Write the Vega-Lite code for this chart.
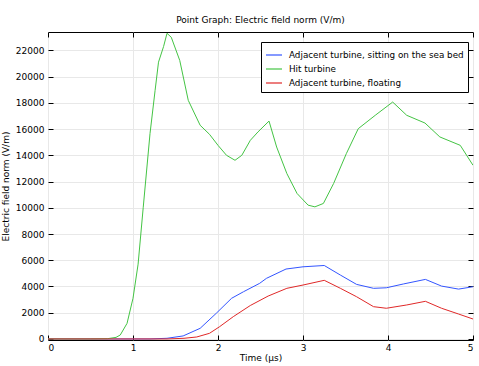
{
  "$schema": "https://vega.github.io/schema/vega-lite/v6.json",
  "autosize": "none",
  "width": 425,
  "height": 308,
  "padding": {"left": 48, "top": 32, "right": 6, "bottom": 26},
  "title": {"text": "Point Graph: Electric field norm (V/m)", "fontSize": 9, "fontWeight": "normal", "font": "DejaVu Sans", "color": "#000", "offset": 7},
  "config": {
    "font": "DejaVu Sans",
    "view": {"stroke": "#000", "strokeWidth": 1},
    "axis": {"labelFontSize": 9, "titleFontSize": 9, "titleFontWeight": "normal", "labelColor": "#000", "titleColor": "#000", "domainColor": "#000", "tickColor": "#000", "gridColor": "#e8e8e8"}
  },
  "data": {"values": [
    {"t":0,"v":0,"s":"Adjacent turbine, sitting on the sea bed"},
    {"t":1.2,"v":0,"s":"Adjacent turbine, sitting on the sea bed"},
    {"t":1.4,"v":50,"s":"Adjacent turbine, sitting on the sea bed"},
    {"t":1.59,"v":230,"s":"Adjacent turbine, sitting on the sea bed"},
    {"t":1.79,"v":810,"s":"Adjacent turbine, sitting on the sea bed"},
    {"t":1.98,"v":1960,"s":"Adjacent turbine, sitting on the sea bed"},
    {"t":2.16,"v":3100,"s":"Adjacent turbine, sitting on the sea bed"},
    {"t":2.3,"v":3600,"s":"Adjacent turbine, sitting on the sea bed"},
    {"t":2.49,"v":4240,"s":"Adjacent turbine, sitting on the sea bed"},
    {"t":2.57,"v":4620,"s":"Adjacent turbine, sitting on the sea bed"},
    {"t":2.8,"v":5330,"s":"Adjacent turbine, sitting on the sea bed"},
    {"t":3.0,"v":5500,"s":"Adjacent turbine, sitting on the sea bed"},
    {"t":3.25,"v":5600,"s":"Adjacent turbine, sitting on the sea bed"},
    {"t":3.44,"v":4870,"s":"Adjacent turbine, sitting on the sea bed"},
    {"t":3.63,"v":4160,"s":"Adjacent turbine, sitting on the sea bed"},
    {"t":3.83,"v":3860,"s":"Adjacent turbine, sitting on the sea bed"},
    {"t":3.98,"v":3900,"s":"Adjacent turbine, sitting on the sea bed"},
    {"t":4.18,"v":4190,"s":"Adjacent turbine, sitting on the sea bed"},
    {"t":4.44,"v":4540,"s":"Adjacent turbine, sitting on the sea bed"},
    {"t":4.63,"v":4030,"s":"Adjacent turbine, sitting on the sea bed"},
    {"t":4.83,"v":3800,"s":"Adjacent turbine, sitting on the sea bed"},
    {"t":5.0,"v":3980,"s":"Adjacent turbine, sitting on the sea bed"},
    {"t":0,"v":0,"s":"Hit turbine"},
    {"t":0.5,"v":0,"s":"Hit turbine"},
    {"t":0.7,"v":20,"s":"Hit turbine"},
    {"t":0.8,"v":120,"s":"Hit turbine"},
    {"t":0.85,"v":300,"s":"Hit turbine"},
    {"t":0.93,"v":1190,"s":"Hit turbine"},
    {"t":1.0,"v":3100,"s":"Hit turbine"},
    {"t":1.06,"v":5700,"s":"Hit turbine"},
    {"t":1.12,"v":10000,"s":"Hit turbine"},
    {"t":1.2,"v":15650,"s":"Hit turbine"},
    {"t":1.26,"v":18950,"s":"Hit turbine"},
    {"t":1.3,"v":21100,"s":"Hit turbine"},
    {"t":1.36,"v":22300,"s":"Hit turbine"},
    {"t":1.4,"v":23300,"s":"Hit turbine"},
    {"t":1.45,"v":23000,"s":"Hit turbine"},
    {"t":1.55,"v":21230,"s":"Hit turbine"},
    {"t":1.65,"v":18190,"s":"Hit turbine"},
    {"t":1.79,"v":16290,"s":"Hit turbine"},
    {"t":1.9,"v":15600,"s":"Hit turbine"},
    {"t":2.0,"v":14760,"s":"Hit turbine"},
    {"t":2.1,"v":14000,"s":"Hit turbine"},
    {"t":2.2,"v":13620,"s":"Hit turbine"},
    {"t":2.28,"v":14000,"s":"Hit turbine"},
    {"t":2.38,"v":15140,"s":"Hit turbine"},
    {"t":2.47,"v":15780,"s":"Hit turbine"},
    {"t":2.6,"v":16610,"s":"Hit turbine"},
    {"t":2.69,"v":14630,"s":"Hit turbine"},
    {"t":2.81,"v":12610,"s":"Hit turbine"},
    {"t":2.93,"v":11090,"s":"Hit turbine"},
    {"t":3.06,"v":10200,"s":"Hit turbine"},
    {"t":3.14,"v":10070,"s":"Hit turbine"},
    {"t":3.24,"v":10330,"s":"Hit turbine"},
    {"t":3.36,"v":11850,"s":"Hit turbine"},
    {"t":3.51,"v":14130,"s":"Hit turbine"},
    {"t":3.65,"v":16030,"s":"Hit turbine"},
    {"t":3.85,"v":17050,"s":"Hit turbine"},
    {"t":4.055,"v":18060,"s":"Hit turbine"},
    {"t":4.22,"v":17050,"s":"Hit turbine"},
    {"t":4.435,"v":16460,"s":"Hit turbine"},
    {"t":4.61,"v":15400,"s":"Hit turbine"},
    {"t":4.85,"v":14760,"s":"Hit turbine"},
    {"t":5.0,"v":13240,"s":"Hit turbine"},
    {"t":0,"v":0,"s":"Adjacent turbine, floating"},
    {"t":1.4,"v":0,"s":"Adjacent turbine, floating"},
    {"t":1.6,"v":50,"s":"Adjacent turbine, floating"},
    {"t":1.75,"v":150,"s":"Adjacent turbine, floating"},
    {"t":1.9,"v":430,"s":"Adjacent turbine, floating"},
    {"t":2.02,"v":940,"s":"Adjacent turbine, floating"},
    {"t":2.18,"v":1700,"s":"Adjacent turbine, floating"},
    {"t":2.38,"v":2550,"s":"Adjacent turbine, floating"},
    {"t":2.59,"v":3270,"s":"Adjacent turbine, floating"},
    {"t":2.81,"v":3860,"s":"Adjacent turbine, floating"},
    {"t":3.0,"v":4110,"s":"Adjacent turbine, floating"},
    {"t":3.25,"v":4470,"s":"Adjacent turbine, floating"},
    {"t":3.44,"v":3860,"s":"Adjacent turbine, floating"},
    {"t":3.63,"v":3220,"s":"Adjacent turbine, floating"},
    {"t":3.83,"v":2460,"s":"Adjacent turbine, floating"},
    {"t":3.98,"v":2340,"s":"Adjacent turbine, floating"},
    {"t":4.22,"v":2590,"s":"Adjacent turbine, floating"},
    {"t":4.44,"v":2870,"s":"Adjacent turbine, floating"},
    {"t":4.63,"v":2340,"s":"Adjacent turbine, floating"},
    {"t":4.83,"v":1900,"s":"Adjacent turbine, floating"},
    {"t":5.0,"v":1520,"s":"Adjacent turbine, floating"}
  ]},
  "layer": [
    {
      "mark": {"type": "line", "strokeWidth": 1, "clip": true},
      "encoding": {
        "x": {"field": "t", "type": "quantitative", "scale": {"domain": [0, 5], "nice": false}, "axis": {"title": "Time (µs)", "values": [0,1,2,3,4,5], "tickSize": -5, "labelPadding": 8, "titlePadding": 1, "domain": false}},
        "y": {"field": "v", "type": "quantitative", "scale": {"domain": [-80, 23400], "nice": false, "zero": false}, "axis": {"title": "Electric field norm (V/m)", "format": "d", "values": [0,2000,4000,6000,8000,10000,12000,14000,16000,18000,20000,22000], "tickSize": -5, "labelPadding": 9, "titlePadding": 5, "domain": false}},
        "color": {"field": "s", "type": "nominal", "sort": ["Adjacent turbine, sitting on the sea bed", "Hit turbine", "Adjacent turbine, floating"],
          "scale": {"domain": ["Adjacent turbine, sitting on the sea bed", "Hit turbine", "Adjacent turbine, floating"], "range": ["#3355ff", "#44c444", "#e02828"]},
          "legend": {"title": null, "orient": "none", "legendX": 213, "legendY": 10, "strokeColor": "#000", "fillColor": "#fff", "padding": 4, "symbolType": "stroke", "symbolSize": 256, "symbolStrokeWidth": 1.2, "labelFontSize": 8.8, "labelColor": "#000", "rowPadding": -2, "labelOffset": 6, "labelLimit": 300}},
        "order": {"field": "t", "type": "quantitative"}
      }
    },
    {
      "mark": {"type": "rule", "opacity": 0},
      "encoding": {
        "x": {"datum": 0, "type": "quantitative", "axis": {"orient": "top", "title": null, "labels": false, "grid": false, "domain": false, "values": [0,1,2,3,4,5], "tickSize": -5}},
        "y": {"datum": 0, "type": "quantitative", "axis": {"orient": "right", "title": null, "labels": false, "grid": false, "domain": false, "values": [0,2000,4000,6000,8000,10000,12000,14000,16000,18000,20000,22000], "tickSize": -5}}
      }
    }
  ],
  "resolve": {"axis": {"x": "independent", "y": "independent"}}
}
